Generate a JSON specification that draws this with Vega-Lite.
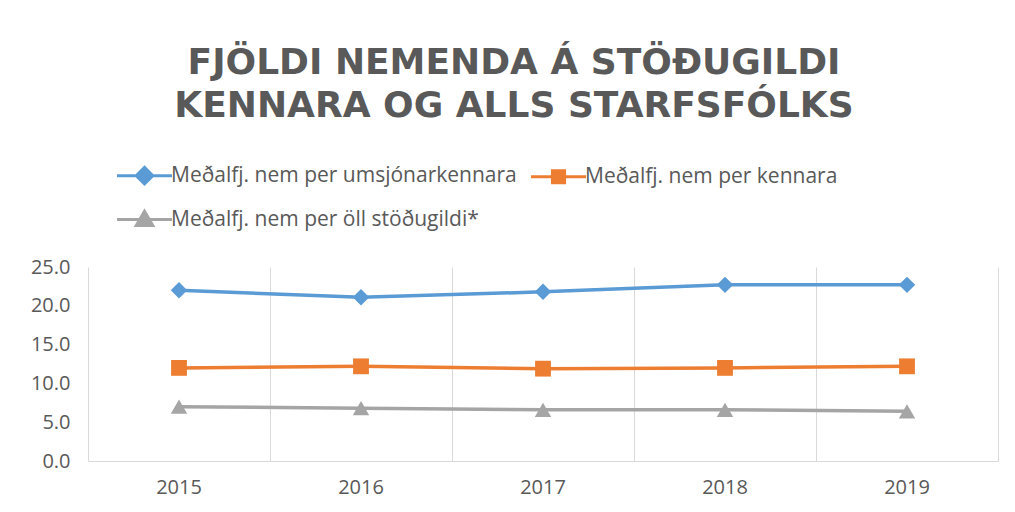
{
  "$schema": "https://vega.github.io/schema/vega-lite/v6.json",
  "width": 910,
  "height": 194,
  "autosize": "none",
  "padding": {"left": 88, "top": 267, "right": 17, "bottom": 51},
  "background": "white",
  "config": {
    "view": {"stroke": null},
    "font": "Open Sans",
    "axis": {"labelColor": "#595959", "labelFont": "Open Sans"}
  },
  "title": {
    "text": ["FJÖLDI NEMENDA Á STÖÐUGILDI", "KENNARA OG ALLS STARFSFÓLKS"],
    "font": "DejaVu Sans",
    "fontSize": 36,
    "fontWeight": "bold",
    "color": "#595959",
    "lineHeight": 43,
    "anchor": "middle",
    "frame": "group",
    "dx": -29,
    "offset": 35
  },
  "data": {
    "values": [
      {"ar": "2015", "flokkur": "Meðalfj. nem per umsjónarkennara", "gildi": 22.0},
      {"ar": "2016", "flokkur": "Meðalfj. nem per umsjónarkennara", "gildi": 21.1},
      {"ar": "2017", "flokkur": "Meðalfj. nem per umsjónarkennara", "gildi": 21.8},
      {"ar": "2018", "flokkur": "Meðalfj. nem per umsjónarkennara", "gildi": 22.7},
      {"ar": "2019", "flokkur": "Meðalfj. nem per umsjónarkennara", "gildi": 22.7},
      {"ar": "2015", "flokkur": "Meðalfj. nem per kennara", "gildi": 12.0},
      {"ar": "2016", "flokkur": "Meðalfj. nem per kennara", "gildi": 12.2},
      {"ar": "2017", "flokkur": "Meðalfj. nem per kennara", "gildi": 11.9},
      {"ar": "2018", "flokkur": "Meðalfj. nem per kennara", "gildi": 12.0},
      {"ar": "2019", "flokkur": "Meðalfj. nem per kennara", "gildi": 12.2},
      {"ar": "2015", "flokkur": "Meðalfj. nem per öll stöðugildi*", "gildi": 7.0},
      {"ar": "2016", "flokkur": "Meðalfj. nem per öll stöðugildi*", "gildi": 6.8},
      {"ar": "2017", "flokkur": "Meðalfj. nem per öll stöðugildi*", "gildi": 6.6},
      {"ar": "2018", "flokkur": "Meðalfj. nem per öll stöðugildi*", "gildi": 6.6},
      {"ar": "2019", "flokkur": "Meðalfj. nem per öll stöðugildi*", "gildi": 6.4}
    ]
  },
  "encoding": {
    "x": {
      "field": "ar",
      "type": "ordinal",
      "bandPosition": 0.5,
      "scale": {"type": "band", "paddingInner": 0, "paddingOuter": 0},
      "axis": {
        "title": null,
        "labelAngle": 0,
        "labelFontSize": 20,
        "labelPadding": 16,
        "ticks": false,
        "grid": true,
        "gridColor": "#d9d9d9",
        "bandPosition": 0,
        "domainColor": "#d9d9d9"
      }
    },
    "y": {
      "field": "gildi",
      "type": "quantitative",
      "scale": {"domain": [0, 25]}
    },
    "color": {
      "field": "flokkur",
      "type": "nominal",
      "sort": ["Meðalfj. nem per umsjónarkennara", "Meðalfj. nem per kennara", "Meðalfj. nem per öll stöðugildi*"],
      "scale": {
        "domain": ["Meðalfj. nem per umsjónarkennara", "Meðalfj. nem per kennara", "Meðalfj. nem per öll stöðugildi*"],
        "range": ["#5B9BD5", "#ED7D31", "#A5A5A5"]
      },
      "legend": {
        "title": null,
        "orient": "none",
        "legendX": 41,
        "legendY": -107,
        "columns": 2,
        "direction": "horizontal",
        "columnPadding": 8,
        "rowPadding": 14,
        "labelFontSize": 21,
        "labelLimit": 500,
        "labelColor": "#595959",
        "labelFont": "Open Sans",
        "labelOffset": 11,
        "symbolSize": 756,
        "symbolStrokeWidth": 3,
        "symbolOpacity": 1,
        "encode": {
          "symbols": {
            "update": {
              "shape": {"signal": "datum.value === 'Meðalfj. nem per umsjónarkennara' ? 'M-2,0H2M0,-0.6L0.6,0L0,0.6L-0.6,0Z' : datum.value === 'Meðalfj. nem per kennara' ? 'M-2,0H2M-0.44,-0.44H0.44V0.44H-0.44Z' : 'M-2,0H2M0,-0.6L0.6,0.44H-0.6Z'"},
              "fill": {"signal": "scale('color', datum.value)"},
              "stroke": {"signal": "scale('color', datum.value)"},
              "strokeWidth": {"value": 3},
              "opacity": {"value": 1}
            }
          }
        }
      }
    }
  },
  "layer": [
    {
      "mark": {"type": "line", "strokeWidth": 3.5},
      "encoding": {
        "y": {
          "field": "gildi",
          "type": "quantitative",
          "axis": {
            "title": null,
            "format": ".1f",
            "values": [0, 5, 10, 15, 20, 25],
            "labelFontSize": 20,
            "labelPadding": 18,
            "ticks": false,
            "domain": false,
            "grid": false
          }
        }
      }
    },
    {
      "transform": [{"filter": "datum.flokkur === 'Meðalfj. nem per umsjónarkennara'"}],
      "mark": {"type": "point", "filled": true, "opacity": 1, "size": 270, "shape": "diamond"},
      "encoding": {
        "y": {
          "field": "gildi",
          "type": "quantitative",
          "axis": {
            "orient": "right",
            "title": null,
            "labels": false,
            "ticks": false,
            "grid": false,
            "domain": true,
            "domainColor": "#d9d9d9"
          }
        }
      }
    },
    {
      "transform": [{"filter": "datum.flokkur === 'Meðalfj. nem per kennara'"}],
      "mark": {"type": "point", "filled": true, "opacity": 1, "size": 250, "shape": "square"},
      "encoding": {"y": {"field": "gildi", "type": "quantitative", "axis": null}}
    },
    {
      "transform": [{"filter": "datum.flokkur === 'Meðalfj. nem per öll stöðugildi*'"}],
      "mark": {"type": "point", "filled": true, "opacity": 1, "size": 270, "shape": "triangle-up"},
      "encoding": {"y": {"field": "gildi", "type": "quantitative", "axis": null}}
    }
  ],
  "resolve": {"axis": {"y": "independent"}}
}
